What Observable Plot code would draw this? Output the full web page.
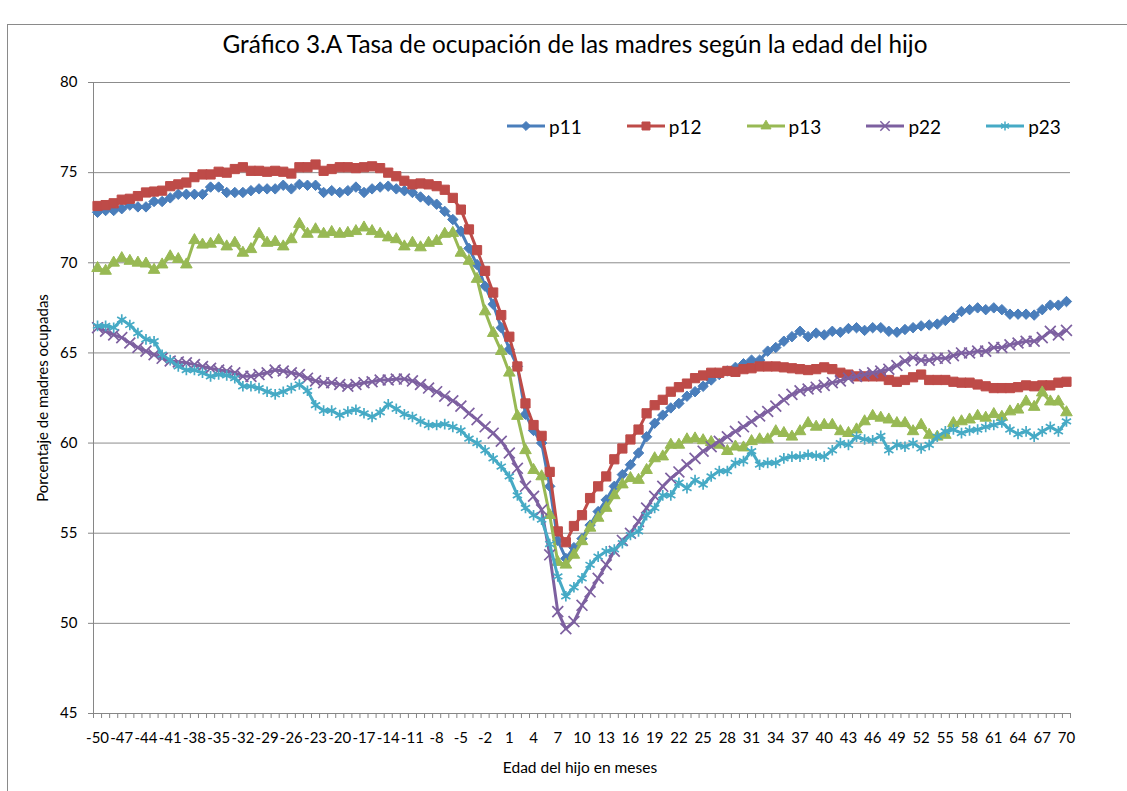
<!DOCTYPE html>
<html><head><meta charset="utf-8">
<script src="https://cdn.jsdelivr.net/npm/d3@7"></script>
<script src="https://cdn.jsdelivr.net/npm/@observablehq/plot@0.6"></script>
<style>
body{margin:0;background:#fff;}
#wrap{position:relative;width:1127px;height:791px;overflow:hidden;font-family:Lato,"Open Sans",sans-serif;color:#000;}
#frame{position:absolute;left:7px;top:24px;width:1300px;height:1000px;border:1px solid #8a8a8a;box-sizing:border-box;}
#title{position:absolute;left:0;top:29px;width:1150px;text-align:center;font-size:24.3px;}
#ylab{position:absolute;left:42px;top:398px;transform:translate(-50%,-50%) rotate(-90deg);font-size:15px;white-space:nowrap;}
#xlab{position:absolute;left:580px;top:767px;transform:translate(-50%,-50%);font-size:15.5px;white-space:nowrap;}
#chart{position:absolute;left:0;top:0;}
.leg{position:absolute;top:113px;height:26px;display:flex;align-items:center;font-size:19px;}
.leg svg{margin-right:3px;}
</style></head>
<body><div id="wrap"><div id="frame"></div><div id="chart"></div>
<div id="title">Gráfico 3.A Tasa de ocupación de las madres según la edad del hijo</div>
<div id="ylab">Porcentaje de madres ocupadas</div>
<div id="xlab">Edad del hijo en meses</div>
<div id="legend"></div></div>
<script>
const months = d3.range(-50, 71);
const yTicks = [45, 50, 55, 60, 65, 70, 75, 80];
const xLabels = d3.range(-50, 71, 3);
const xBounds = d3.range(-50.5, 71, 1);
const seriesNames = ["p11", "p12", "p13", "p22", "p23"];

const p11 = [
 72.8,72.9,72.9,73.0,73.2,73.1,73.1,73.4,73.4,73.6,73.8,73.8,73.8,73.8,74.2,74.2,73.9,73.9,73.9,74.0,74.1,74.1,74.1,74.3,74.1,74.35,74.3,74.3,73.9,
 74.0,73.9,74.0,74.2,73.9,74.1,74.2,74.25,74.1,74.0,73.9,73.65,73.45,73.25,72.85,72.4,71.75,70.8,69.9,68.7,67.7,66.4,65.2,64.25,
 61.6,60.7,60.0,57.6,54.6,53.6,
 54.2,54.7,55.45,56.2,56.85,57.6,58.25,58.8,59.45,60.35,61.1,61.55,61.95,62.2,62.6,62.85,63.15,63.5,63.8,64.0,
 64.2,64.4,64.6,64.6,65.1,65.3,65.65,65.9,66.2,65.9,66.1,
 66.0,66.2,66.15,66.35,66.4,66.25,66.4,66.4,66.2,66.15,66.3,66.4,66.5,66.55,66.6,66.8,66.95,67.3,67.4,67.5,67.4,67.5,67.4,67.15,67.15,67.15,67.1,67.4,67.65,67.65,67.85
];
const p12 = [
 73.15,73.2,73.3,73.5,73.55,73.7,73.9,73.95,74.0,74.25,74.35,74.45,74.75,74.9,74.9,75.05,75.0,75.2,75.3,75.1,75.1,75.05,75.1,75.05,74.95,75.3,75.3,75.45,75.1,
 75.2,75.3,75.3,75.25,75.3,75.35,75.25,75.0,74.8,74.55,74.35,74.4,74.35,74.25,74.05,73.6,72.95,71.85,70.7,69.55,68.35,67.1,65.9,64.25,
 62.2,61.0,60.4,58.4,55.1,54.5,
 55.4,56.0,56.95,57.6,58.15,59.1,59.7,60.2,60.75,61.65,62.1,62.4,62.85,63.1,63.3,63.6,63.75,63.9,63.9,64.0,63.95,64.1,64.15,64.25,64.25,64.25,64.2,64.15,64.1,64.05,
 64.1,
 64.2,64.1,63.9,63.8,63.7,63.7,63.7,63.7,63.5,63.4,63.5,63.65,63.8,63.5,63.5,63.5,63.4,63.35,63.35,63.25,63.15,63.05,63.05,63.05,63.1,63.2,63.15,63.2,63.2,63.35,63.4
];
const p13 = [
 69.7,69.55,70.0,70.25,70.1,70.0,69.95,69.6,69.9,70.35,70.2,69.9,71.25,71.0,71.05,71.25,70.9,71.1,70.55,70.75,71.6,71.1,71.15,70.9,71.3,72.15,71.6,71.85,71.6,
 71.7,71.6,71.65,71.75,71.95,71.75,71.6,71.4,71.3,70.9,71.1,70.85,71.1,71.2,71.6,71.65,70.55,70.1,69.1,67.3,66.1,65.1,63.9,61.5,
 59.6,58.5,58.15,56.0,53.4,53.25,53.8,
 54.55,55.3,55.85,56.4,57.1,57.7,58.05,57.95,58.5,59.15,59.25,59.9,59.9,60.2,60.25,60.15,60.05,59.9,59.55,59.8,59.75,60.1,60.2,60.2,60.65,60.55,60.35,60.65,61.1,
 60.9,
 61.0,61.0,60.65,60.55,60.75,61.2,61.5,61.4,61.3,61.1,61.1,60.65,61.0,60.45,60.35,60.45,61.1,61.2,61.3,61.5,61.4,61.6,61.45,61.75,
 61.85,62.3,62.0,62.8,62.3,62.3,61.7
];
const p22 = [
 66.4,66.2,66.0,65.85,65.55,65.3,65.1,64.9,64.7,64.55,64.5,64.45,64.35,64.25,64.15,64.05,64.0,63.9,63.7,63.7,63.8,63.9,64.05,64.0,63.9,63.8,63.6,63.45,63.35,
 63.35,63.25,63.15,63.25,63.35,63.4,63.5,63.5,63.55,63.55,63.45,63.25,63.05,62.85,62.6,62.35,62.05,61.65,61.3,60.9,60.55,60.1,59.45,58.6,57.6,57.05,56.3,53.8,50.65,49.7,50.1,
 51.0,51.75,52.5,53.25,54.0,54.6,55.0,55.65,56.4,57.05,57.6,58.05,58.4,58.8,59.15,59.55,59.8,60.1,60.35,60.65,60.9,61.2,61.5,61.75,62.05,62.4,62.7,62.9,63.0,
 63.1,63.2,63.35,63.45,63.6,63.7,63.8,63.9,64.0,64.1,64.3,64.55,64.75,64.6,64.6,64.7,64.7,64.85,65.0,65.0,65.1,65.1,65.3,65.3,65.45,65.55,65.65,65.65,65.85,66.2,66.0,66.25
];
const p23 = [
 66.5,66.5,66.4,66.85,66.55,66.1,65.75,65.65,64.9,64.6,64.25,64.05,64.05,63.9,63.7,63.8,63.75,63.6,63.15,63.15,63.05,62.85,62.7,62.85,63.05,63.25,62.9,62.1,61.8,61.8,
 61.55,61.75,61.85,61.65,61.45,61.7,62.15,61.9,61.6,61.45,61.2,61.0,61.0,61.05,60.9,60.7,60.25,60.0,59.6,59.15,58.7,58.15,57.1,56.4,56.0,55.75,54.4,52.6,51.5,52.0,
 52.5,53.25,53.7,54.0,54.1,54.45,54.9,55.1,56.0,56.4,57.1,57.1,57.8,57.5,57.95,57.7,58.15,58.45,58.45,58.9,59.0,59.55,58.8,58.9,58.9,59.15,59.25,59.25,59.35,
 59.3,
 59.25,59.6,60.0,59.9,60.35,60.2,60.15,60.4,59.6,59.9,59.8,60.0,59.7,59.9,60.35,60.65,60.75,60.55,60.7,60.75,60.9,61.0,61.15,60.75,60.5,60.65,60.35,60.65,60.9,60.65,61.2
];

const styles = {
  p11: {color: "#4A7EBB", symbol: "diamond2", r: 4.7, filled: true},
  p12: {color: "#BE4B48", symbol: "square", r: 5.2, filled: true},
  p13: {color: "#98B954", symbol: "triangle", r: 4.3, filled: true},
  p22: {color: "#7D60A0", symbol: "times", r: 5.0, filled: false},
  p23: {color: "#46AAC5", symbol: "asterisk", r: 5.0, filled: false}
};
const valuesBy = {p11, p12, p13, p22, p23};

const seriesMarks = seriesNames.flatMap(name => {
  const st = styles[name];
  const data = valuesBy[name].map((v, i) => ({month: months[i], value: v}));
  return [
    Plot.line(data, {x: "month", y: "value", stroke: st.color, strokeWidth: 3}),
    Plot.dot(data, {x: "month", y: "value", symbol: st.symbol, r: st.r,
      fill: st.filled ? st.color : "none", stroke: st.color, strokeWidth: st.filled ? 1 : 1.7})
  ];
});

const chart = Plot.plot({
  width: 1127, height: 791,
  marginLeft: 93, marginRight: 57, marginTop: 82, marginBottom: 78,
  style: {fontFamily: "Lato, 'Open Sans', sans-serif", fontSize: "15px", color: "#000", background: "transparent", overflow: "visible"},
  x: {domain: [-50.5, 70.5]},
  y: {domain: [45, 80]},
  marks: [
    Plot.gridY(yTicks, {stroke: "#8c8c8c", strokeOpacity: 1}),
    Plot.axisY(yTicks, {tickSize: 5, tickPadding: 11, stroke: "#868686", label: null, tickFormat: d => String(d)}),
    Plot.axisX(xBounds, {tickSize: 5, stroke: "#868686", label: null, tickFormat: () => ""}),
    Plot.axisX(xLabels, {tickSize: 0, tickPadding: 19, label: null, tickFormat: d => String(d)}),
    Plot.ruleX([-50.5], {stroke: "#868686"}),
    Plot.ruleY([45], {stroke: "#868686"}),
    ...seriesMarks
  ]
});
document.getElementById("chart").appendChild(chart);

// legend
const legend = document.getElementById("legend");
const symMap = {diamond2: d3.symbolDiamond2, square: d3.symbolSquare, triangle: d3.symbolTriangle, times: d3.symbolTimes, asterisk: d3.symbolAsterisk};
seriesNames.forEach((name, i) => {
  const st = styles[name];
  const item = document.createElement("div");
  item.className = "leg";
  item.style.left = (506 + 119.8 * i) + "px";
  const svg = d3.create("svg").attr("width", 40).attr("height", 26);
  svg.append("line").attr("x1", 1).attr("x2", 39).attr("y1", 13).attr("y2", 13)
    .attr("stroke", st.color).attr("stroke-width", 3);
  svg.append("path").attr("transform", "translate(20,13)")
    .attr("d", d3.symbol(symMap[st.symbol], Math.PI * st.r * st.r * 0.75)())
    .attr("fill", st.filled ? st.color : "none").attr("stroke", st.color).attr("stroke-width", st.filled ? 1 : 1.5);
  item.appendChild(svg.node());
  const t = document.createElement("span");
  t.textContent = name;
  item.appendChild(t);
  legend.appendChild(item);
});
</script></body></html>
